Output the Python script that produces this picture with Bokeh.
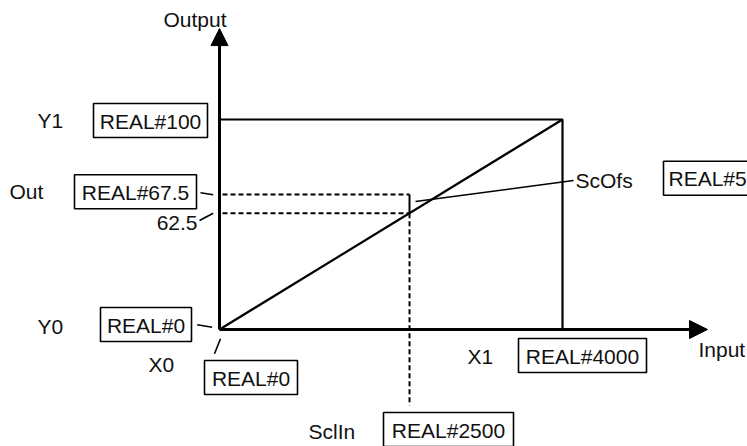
from bokeh.plotting import figure
from bokeh.models import Range1d, Arrow, NormalHead
from bokeh.core.properties import value
from bokeh.embed import file_html
from bokeh.resources import INLINE

# ---- data (schematic of a scaling instruction) ----
X_POINTS = [0, 4000]          # X0, X1 (Input)
Y_POINTS = [0, 100]           # Y0, Y1 (Output)
SCL_IN = 2500                 # input value
OUT = 67.5                    # output value
LINE_VALUE = 62.5             # value on the scaling line
SC_OFS = 5                    # offset
# schematic (not to scale) positions at which the diagram draws these values
SCL_IN_DRAWN = 2216
OUT_DRAWN = 64.3
LINE_DRAWN = 55.4
AXIS_X_END = 5691
AXIS_Y_END = 143.3

NAME_LABELS = ["Output", "Y1", "Out", "Y0", "X0", "X1", "SclIn", "ScOfs", "Input"]
BOX_TEXTS = ["REAL#100", "REAL#67.5", "REAL#0", "REAL#0", "REAL#4000", "REAL#2500", "REAL#5"]
VALUE_LABEL = "62.5"

W, H = 747, 446

# ---- layout helpers (reference pixel -> data units) ----
def dx(px):
    return (px - 219) * 4000 / 343

def dy(py):
    return (329 - py) * 100 / 210

FONT = value("Liberation Sans")
FS = "21px"
TC = "#111111"

p = figure(width=W, height=H,
           x_range=Range1d(dx(0), dx(W)), y_range=Range1d(dy(H), dy(0)),
           output_backend="svg", toolbar_location=None, min_border=0,
           x_axis_location=None, y_axis_location=None)
p.grid.visible = False
p.outline_line_color = None
p.background_fill_color = "white"

x0, x1 = X_POINTS
y0, y1 = Y_POINTS

# axes with arrow heads
p.add_layout(Arrow(end=NormalHead(size=18, fill_color="black", line_color="black"),
                   x_start=x0, y_start=y0, x_end=AXIS_X_END, y_end=y0,
                   line_width=3, line_color="black"))
p.add_layout(Arrow(end=NormalHead(size=17, fill_color="black", line_color="black"),
                   x_start=x0, y_start=y0, x_end=x0, y_end=AXIS_Y_END,
                   line_width=3, line_color="black"))

# rectangle lines and scaling line
p.line([x0, x1, x1], [y1, y1, y0], line_width=2.2, line_color="black")
p.line(X_POINTS, Y_POINTS, line_width=2.2, line_color="black")

# dashed guides
p.line([dx(222), SCL_IN_DRAWN], [OUT_DRAWN, OUT_DRAWN], line_width=2, line_color="black", line_dash="5 3")
p.line([dx(222), SCL_IN_DRAWN], [LINE_DRAWN, LINE_DRAWN], line_width=2, line_color="black", line_dash="5 3")
p.line([SCL_IN_DRAWN, SCL_IN_DRAWN], [OUT_DRAWN, LINE_DRAWN], line_width=2, line_color="black")
p.line([SCL_IN_DRAWN, SCL_IN_DRAWN], [LINE_DRAWN, dy(405)], line_width=2, line_color="black", line_dash="5 3")

# leader lines
leaders = [
    ((200, 192.3), (212.7, 194.3)),
    ((199, 220), (212.7, 212.7)),
    ((196.7, 324.3), (211.7, 326.7)),
    ((220, 338.3), (214, 353.3)),
    ((415, 201), (573, 180)),
]
p.multi_line([[dx(a[0]), dx(b[0])] for a, b in leaders],
             [[dy(a[1]), dy(b[1])] for a, b in leaders],
             line_width=1.6, line_color="black")

# value boxes (center x, center y, width) in reference pixels
box_geom = [(150, 120, 114), (135, 191.3, 122), (145.5, 324, 91), (250.5, 377, 93),
            (582, 355, 128), (448, 429, 130), (710, 177.7, 94)]
p.rect(x=[dx(g[0]) for g in box_geom], y=[dy(g[1]) for g in box_geom],
       width=[g[2] for g in box_geom], height=34,
       width_units="screen", height_units="screen",
       fill_color="white", line_color="black", line_width=1.6)
box_text_x = [dx(g[0]) for g in box_geom]
box_text_x[-1] = dx(668)
p.text(x=box_text_x[:-1], y=[dy(g[1] + 0.5) for g in box_geom[:-1]], text=BOX_TEXTS[:-1],
       text_font=FONT, text_font_size=FS, text_align="center", text_baseline="middle",
       text_color=TC)
p.text(x=[box_text_x[-1]], y=[dy(box_geom[-1][1] + 0.5)], text=[BOX_TEXTS[-1]],
       text_font=FONT, text_font_size=FS, text_align="left", text_baseline="middle",
       text_color=TC)

# name labels (left, cap centre) in reference pixels
name_pos = [(163, 18.5), (37, 120), (9, 190.5), (37, 326), (148, 364), (467, 356),
            (308, 431), (575, 180), (698, 348.5)]
p.text(x=[dx(a) for a, b in name_pos], y=[dy(b) for a, b in name_pos], text=NAME_LABELS,
       text_font=FONT, text_font_size=FS, text_align="left", text_baseline="middle",
       text_color=TC)

p.text(x=[dx(197)], y=[dy(222.5)], text=[VALUE_LABEL],
       text_font=FONT, text_font_size=FS, text_align="right", text_baseline="middle",
       text_color=TC)

open("out.html", "w").write(file_html(p, INLINE))
